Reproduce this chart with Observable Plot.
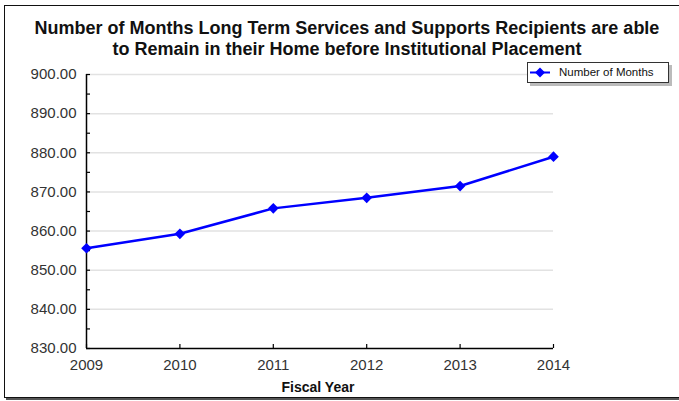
<!DOCTYPE html>
<html>
<head>
<meta charset="utf-8">
<script src="https://cdn.jsdelivr.net/npm/d3@7"></script>
<script src="https://cdn.jsdelivr.net/npm/@observablehq/plot@0.6"></script>
<style>
  html, body { margin: 0; padding: 0; background: #fff; overflow: hidden; }
  #wrap { position: relative; width: 679px; height: 401px; overflow: hidden; font-family: "Liberation Sans", Arial, sans-serif; }
  #frame { position: absolute; left: 4px; top: 5px; width: 720px; height: 391px; border: 1px solid #111; box-shadow: 2px 2px 0 #555; }
  #chart { position: absolute; left: 0; top: 0; }
  #title { position: absolute; left: 0; top: 18px; width: 694px; text-align: center; font-weight: bold; font-size: 18px; line-height: 21px; color: #111; }
  #xlabel { position: absolute; left: 218px; top: 379px; width: 200px; text-align: center; font-weight: bold; font-size: 14px; line-height: 16px; color: #111; }
  #legend { position: absolute; left: 527px; top: 62px; width: 140px; height: 19px; border: 1px solid #333; background: #fff; box-shadow: 3px 3px 0 #bbb; font-size: 11.5px; color: #111; }
  #legend svg { position: absolute; left: 1px; top: 0; }
  #legend span { position: absolute; left: 31px; top: 2px; line-height: 15px; }
</style>
</head>
<body>
<div id="wrap">
  <div id="frame"></div>
  <div id="chart"></div>
  <div id="title">Number of Months Long Term Services and Supports Recipients are able<br>to Remain in their Home before Institutional Placement</div>
  <div id="xlabel">Fiscal Year</div>
  <div id="legend">
    <svg width="24" height="19"><line x1="1" y1="9.5" x2="21" y2="9.5" stroke="#0000ff" stroke-width="2"/><path d="M11,4.5L16,9.5L11,14.5L6,9.5Z" fill="#0000ff"/></svg>
    <span>Number of Months</span>
  </div>
</div>
<script>
const years = [2009, 2010, 2011, 2012, 2013, 2014];
const months = [855.6, 859.3, 865.8, 868.5, 871.5, 879.0];
const yTicks = [830, 840, 850, 860, 870, 880, 890, 900];
const yMinorTicks = [835, 845, 855, 865, 875, 885, 895];

const data = years.map((y, i) => ({year: y, value: months[i]}));

const W = 679, H = 401, ML = 86, MR = 126, MT = 74, MB = 53;
const plotW = W - ML - MR, plotH = H - MT - MB;

const chart = Plot.plot({
  width: W, height: H,
  marginLeft: ML, marginRight: MR, marginTop: MT, marginBottom: MB,
  style: {fontFamily: "'Liberation Sans', Arial, sans-serif", background: "transparent", overflow: "visible"},
  x: {domain: [2009, 2014], label: null},
  y: {domain: [830, 900], label: null},
  marks: [
    Plot.gridY(yTicks.slice(1), {stroke: "#e2e2e2", strokeOpacity: 1, strokeWidth: 1.5}),
    Plot.axisY(yTicks, {tickSize: 0, tickPadding: 10, tickFormat: d => d.toFixed(2), fontSize: 15, fill: "#333", label: null}),
    Plot.axisX(years, {tickSize: 0, tickPadding: 11, tickFormat: d => String(d), fontSize: 15, fill: "#333", label: null}),
    Plot.tickY(yTicks.concat(yMinorTicks), {y: d => d, insetRight: plotW - 4, stroke: "#000", strokeWidth: 1.2}),
    Plot.tickX(years, {x: d => d, insetTop: plotH - 4, stroke: "#000", strokeWidth: 1.2}),
    Plot.ruleX([2009], {stroke: "#000", strokeWidth: 1.5}),
    Plot.ruleY([830], {stroke: "#000", strokeWidth: 1.5}),
    Plot.line(data, {x: "year", y: "value", stroke: "#0000ff", strokeWidth: 2.5}),
    Plot.dot(data, {x: "year", y: "value", symbol: "diamond2", r: 4.8, fill: "#0000ff", stroke: "none"})
  ]
});
document.getElementById("chart").appendChild(chart);
</script>
</body>
</html>
